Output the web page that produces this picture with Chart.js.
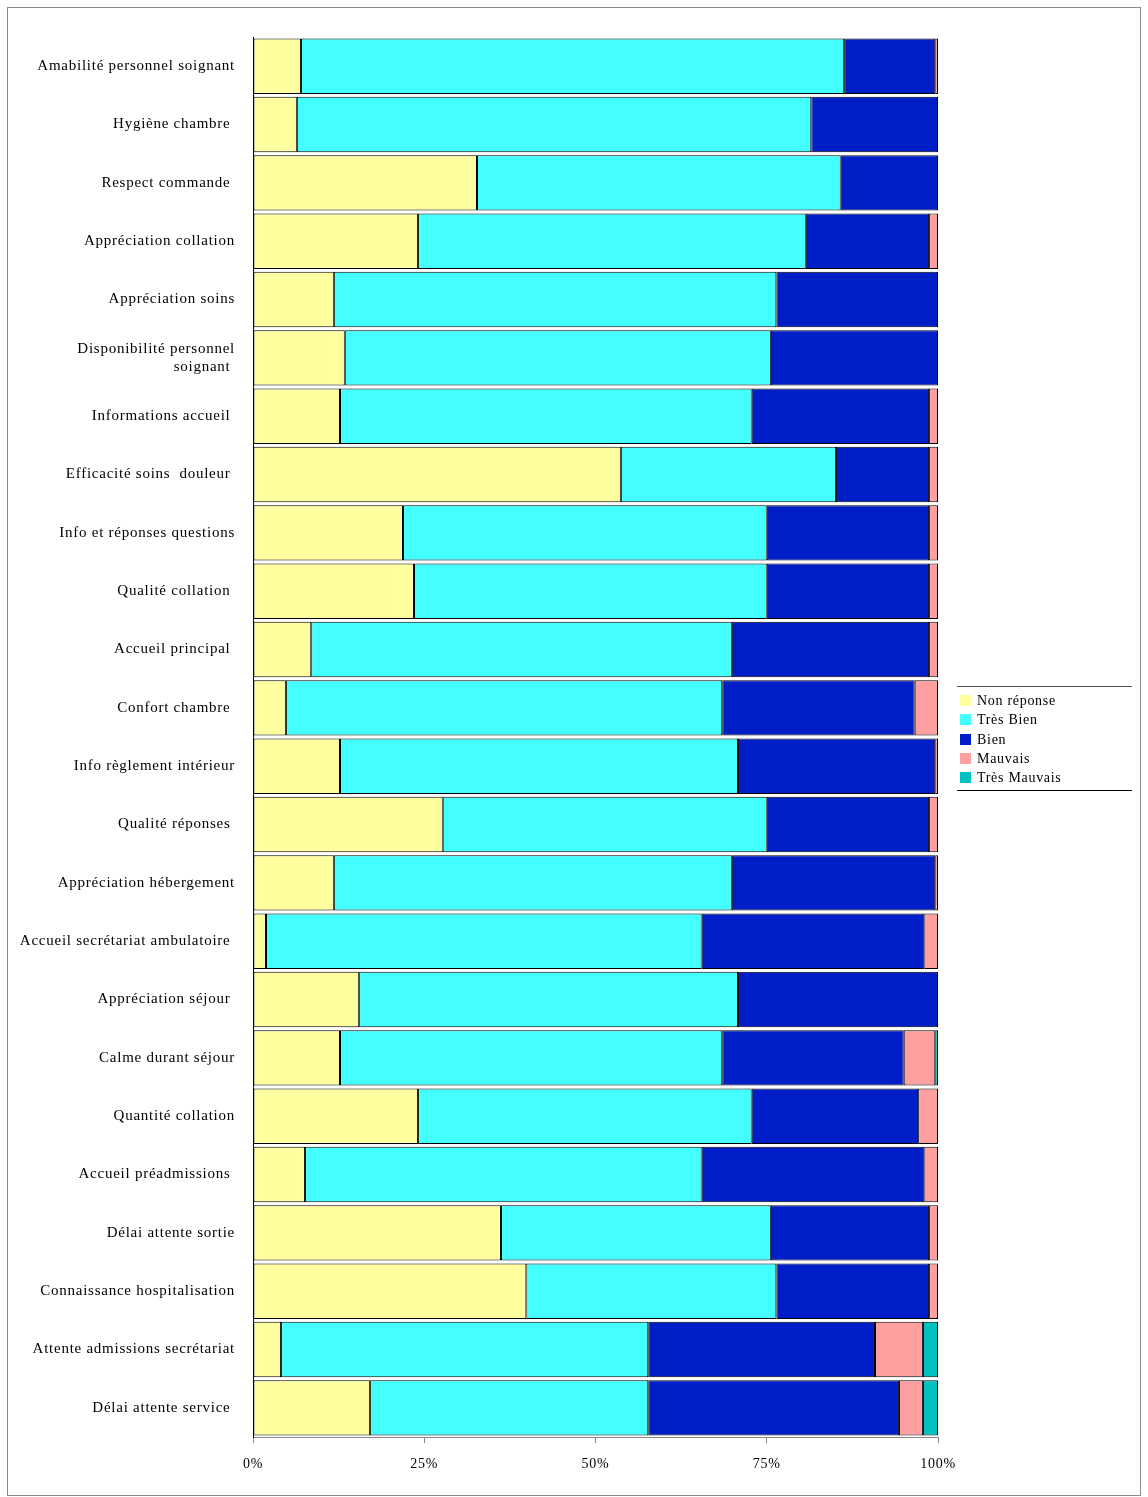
<!DOCTYPE html>
<html>
<head>
<meta charset="utf-8">
<script src="https://cdn.jsdelivr.net/npm/chart.js@4"></script>
<style>
  body { margin: 0; background: #fff; }
  #wrap { position: relative; width: 1148px; height: 1497px; }
  #frame { position: absolute; left: 7px; top: 7px; width: 1132px; height: 1487px; border: 1px solid #8a8a8a; }
  #legend { position: absolute; left: 957px; top: 686px; width: 175px; border-top: 1px solid #555; border-bottom: 1px solid #000;
    padding: 4px 0 3px 0; font-family: "Liberation Serif", "DejaVu Serif", serif; font-size: 14px; letter-spacing: 0.7px; color: #000; }
  #legend div { height: 19.3px; line-height: 19px; white-space: nowrap; }
  #legend span { display: inline-block; width: 11px; height: 11px; margin: 0 6px 0 3px; vertical-align: -1px; }
</style>
</head>
<body>
<div id="wrap">
  <div id="frame"></div>
  <canvas id="graphic1" width="1148" height="1497"></canvas>
  <div id="legend"></div>
</div>
<script>
var categories = [
  "Amabilité personnel soignant", "Hygiène chambre ", "Respect commande ", "Appréciation collation",
  "Appréciation soins", ["Disponibilité personnel", "soignant "], "Informations accueil ", "Efficacité soins  douleur ",
  "Info et réponses questions", "Qualité collation ", "Accueil principal ", "Confort chambre ",
  "Info règlement intérieur", "Qualité réponses ", "Appréciation hébergement", "Accueil secrétariat ambulatoire ",
  "Appréciation séjour ", "Calme durant séjour", "Quantité collation", "Accueil préadmissions ",
  "Délai attente sortie", "Connaissance hospitalisation", "Attente admissions secrétariat", "Délai attente service "
]

var nonReponse   = [7.0, 6.4, 32.7, 24.1, 11.8, 13.4, 12.7, 53.7, 21.9, 23.5, 8.5, 4.8, 12.7, 27.7, 11.8, 1.9, 15.5, 12.7, 24.1, 7.6, 36.2, 39.9, 4.1, 17.1]
var tresBien     = [79.3, 75.1, 53.1, 56.6, 64.6, 62.2, 60.1, 31.4, 53.1, 51.5, 61.4, 63.7, 58.1, 47.3, 58.1, 63.6, 55.3, 55.8, 48.7, 57.9, 39.4, 36.5, 53.6, 40.6]
var bien         = [13.3, 18.5, 14.2, 18.0, 23.6, 24.4, 25.9, 13.6, 23.7, 23.7, 28.8, 28.1, 28.8, 23.7, 29.7, 32.5, 29.2, 26.5, 24.3, 32.5, 23.1, 22.3, 33.1, 36.6]
var mauvais      = [0.4, 0, 0, 1.3, 0, 0, 1.3, 1.3, 1.3, 1.3, 1.3, 3.4, 0.4, 1.3, 0.4, 2.0, 0, 4.6, 2.9, 2.0, 1.3, 1.3, 7.0, 3.5]
var tresMauvais  = [0, 0, 0, 0, 0, 0, 0, 0, 0, 0, 0, 0, 0, 0, 0, 0, 0, 0.4, 0, 0, 0, 0, 2.2, 2.2]

var seriesNames  = ["Non réponse", "Très Bien", "Bien", "Mauvais", "Très Mauvais"]
var seriesColors = ["#ffffa0", "#44ffff", "#001ec8", "#ffa0a0", "#00c0c0"]
var xTicks = [0, 25, 50, 75, 100]

var seriesData = [nonReponse, tresBien, bien, mauvais, tresMauvais]

var serif = "'Liberation Serif', 'DejaVu Serif', serif"

// the original labels are a bit more widely spaced than canvas default
var spacing = {
    id: "spacing",
    beforeLayout: function (chart) { chart.ctx.letterSpacing = "0.75px" },
    beforeDraw: function (chart) { chart.ctx.letterSpacing = "0.75px" }
}

var ctx1 = document.getElementById("graphic1").getContext("2d")

var graph = new Chart(ctx1, {
    type: "bar",
    data: {
        labels: categories,
        datasets: seriesData.map(function (d, i) {
            return {
                label: seriesNames[i],
                data: d,
                backgroundColor: seriesColors[i],
                borderColor: "#000",
                borderWidth: 1,
                borderSkipped: false,
                barPercentage: 0.95,
                categoryPercentage: 1
            }
        })
    },
    plugins: [spacing],
    options: {
        indexAxis: "y",
        responsive: false,
        animation: false,
        layout: { padding: { left: 0, top: 37, right: 210, bottom: 20 } },
        plugins: { legend: { display: false }, tooltip: { enabled: false } },
        scales: {
            x: {
                stacked: true,
                min: 0,
                max: 100,
                afterFit: function (s) { s.height = 40 },
                afterBuildTicks: function (s) { s.ticks = xTicks.map(function (v) { return { value: v } }) },
                grid: { drawOnChartArea: false, drawTicks: true, tickLength: 6, color: "#888" },
                border: { color: "#888" },
                ticks: {
                    padding: 13,
                    color: "#000",
                    font: { family: serif, size: 14 },
                    callback: function (v) { return v + "%" }
                }
            },
            y: {
                stacked: true,
                afterFit: function (s) { s.width = 253 },
                grid: { display: false, drawTicks: false },
                border: { color: "#000" },
                ticks: {
                    padding: 18,
                    color: "#000",
                    font: { family: serif, size: 15 }
                }
            }
        }
    }
})

var legend = document.getElementById("legend")
seriesNames.forEach(function (name, i) {
    var row = document.createElement("div")
    row.innerHTML = '<span style="background:' + seriesColors[i] + '"></span>' + name
    legend.appendChild(row)
})
</script>
</body>
</html>
